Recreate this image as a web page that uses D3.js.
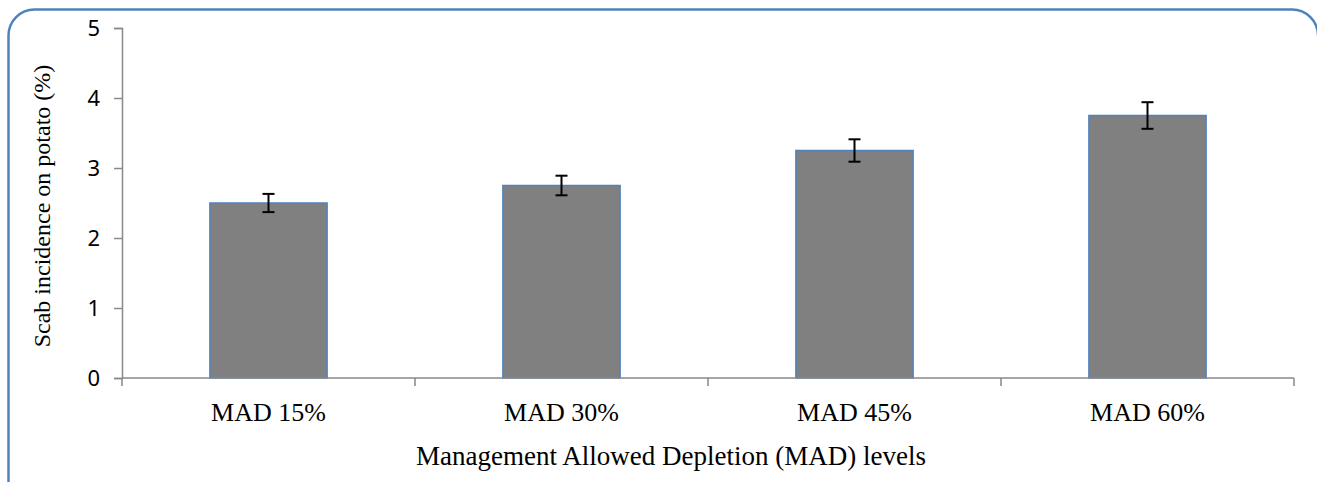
<!DOCTYPE html>
<html>
<head>
<meta charset="utf-8">
<script src="https://cdn.jsdelivr.net/npm/d3@7"></script>
<style>
  body { margin: 0; background: #fff; }
  .tick text { font-family: 'Noto Sans', sans-serif; }
</style>
</head>
<body>
<svg width="1317" height="482"></svg>
<script>
const categories = ['MAD 15%', 'MAD 30%', 'MAD 45%', 'MAD 60%'];
const scabValues = [2.5, 2.75, 3.25, 3.75];
const scabErrors = [0.13, 0.14, 0.16, 0.19];
const yTicks = [0, 1, 2, 3, 4, 5];

const svg = d3.select('svg');
const width = +svg.attr('width');
const height = +svg.attr('height');

const margin = { top: 28, right: 23, bottom: 104, left: 122 };
const innerWidth = width - margin.left - margin.right;
const innerHeight = height - margin.top - margin.bottom;

const axisColor = '#898989';
const serif = "'Liberation Serif', serif";

// chart frame (rounded, runs off the right and bottom edges)
const fr = 26;
const framePath = d3.path();
framePath.moveTo(8.5, height + 10);
framePath.lineTo(8.5, 9.5 + fr);
framePath.arcTo(8.5, 9.5, 8.5 + fr, 9.5, fr);
framePath.lineTo(1318 - fr, 9.5);
framePath.arcTo(1318, 9.5, 1318, 9.5 + fr, fr);
svg.append('path')
    .attr('d', framePath.toString())
    .attr('fill', 'none')
    .attr('stroke', '#4f81bd')
    .attr('stroke-width', 2.5);

const data = categories.map((c, i) => ({ cat: c, value: scabValues[i], err: scabErrors[i] }));

const xScale = d3.scaleBand()
    .domain(categories)
    .range([0, innerWidth])
    .paddingInner(0.6)
    .paddingOuter(0.3);

const yScale = d3.scaleLinear()
    .domain([0, 5])
    .range([innerHeight, 0]);

const g = svg.append('g')
    .attr('transform', `translate(${margin.left}, ${margin.top})`);

// bars
g.selectAll('rect.bar')
    .data(data)
    .enter()
        .append('rect')
        .attr('class', 'bar')
        .attr('x', d => xScale(d.cat))
        .attr('y', d => yScale(d.value))
        .attr('width', xScale.bandwidth())
        .attr('height', d => innerHeight - yScale(d.value))
        .attr('fill', '#808080')
        .attr('stroke', '#4f81bd')
        .attr('stroke-width', 1.5);

// y axis
const yAxisG = g.append('g')
    .call(d3.axisLeft(yScale).tickValues(yTicks).tickFormat(d3.format('d')).tickSize(8).tickPadding(14));
yAxisG.selectAll('line').attr('stroke', axisColor).attr('stroke-width', 1.5);
yAxisG.select('.domain').attr('stroke', axisColor).attr('stroke-width', 1.5);
yAxisG.selectAll('text').attr('font-size', 22).attr('fill', '#000');

// x axis: ticks on category boundaries
const xAxisG = g.append('g')
    .attr('transform', `translate(0, ${innerHeight})`);
xAxisG.append('line')
    .attr('x1', 0).attr('x2', innerWidth)
    .attr('stroke', axisColor).attr('stroke-width', 1.5);
const step = xScale.step();
const start = xScale(categories[0]) - xScale.paddingOuter() * step;
xAxisG.selectAll('line.tick')
    .data(d3.range(categories.length + 1))
    .enter()
        .append('line')
        .attr('class', 'tick')
        .attr('x1', i => start + i * step)
        .attr('x2', i => start + i * step)
        .attr('y1', 0)
        .attr('y2', 8)
        .attr('stroke', axisColor)
        .attr('stroke-width', 1.5);
xAxisG.selectAll('text')
    .data(categories)
    .enter()
        .append('text')
        .attr('x', d => xScale(d) + xScale.bandwidth() / 2)
        .attr('y', 43)
        .attr('text-anchor', 'middle')
        .attr('font-family', serif)
        .attr('font-size', 26)
        .text(d => d);

// error bars
const errG = g.selectAll('g.err')
    .data(data)
    .enter()
        .append('g')
        .attr('class', 'err')
        .attr('stroke', '#000')
        .attr('stroke-width', 2);
const cx = d => xScale(d.cat) + xScale.bandwidth() / 2;
errG.append('line')
    .attr('x1', cx).attr('x2', cx)
    .attr('y1', d => yScale(d.value + d.err))
    .attr('y2', d => yScale(d.value - d.err));
errG.append('line')
    .attr('x1', d => cx(d) - 6).attr('x2', d => cx(d) + 6)
    .attr('y1', d => yScale(d.value + d.err))
    .attr('y2', d => yScale(d.value + d.err));
errG.append('line')
    .attr('x1', d => cx(d) - 6).attr('x2', d => cx(d) + 6)
    .attr('y1', d => yScale(d.value - d.err))
    .attr('y2', d => yScale(d.value - d.err));

// axis titles
svg.append('text')
    .attr('x', 671)
    .attr('y', 465)
    .attr('text-anchor', 'middle')
    .attr('font-family', serif)
    .attr('font-size', 27)
    .text('Management Allowed Depletion (MAD) levels');

svg.append('text')
    .attr('transform', 'translate(50, 206) rotate(-90)')
    .attr('text-anchor', 'middle')
    .attr('font-family', serif)
    .attr('font-size', 24)
    .text('Scab incidence on potato (%)');
</script>
</body>
</html>
